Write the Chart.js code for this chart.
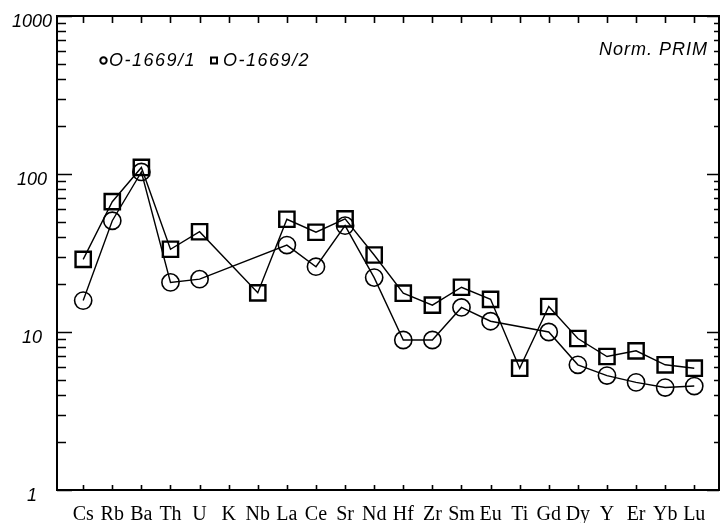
<!DOCTYPE html>
<html><head><meta charset="utf-8">
<script src="https://cdn.jsdelivr.net/npm/chart.js@4/dist/chart.umd.min.js"></script>
<style>html,body{margin:0;padding:0;background:#fff;overflow:hidden;} #wrap{width:720px;height:523px;position:relative;}</style>
</head><body><div id="wrap"><canvas id="c" width="720" height="523"></canvas></div>
<script>
const categories = ['Cs','Rb','Ba','Th','U','K','Nb','La','Ce','Sr','Nd','Hf','Zr','Sm','Eu','Ti','Gd','Dy','Y','Er','Yb','Lu'];
const seriesNames = ['O-1669/1', 'O-1669/2'];
const series1 = [15.8, 50.6, 103, 20.6, 21.6, null, null, 35.5, 25.9, 47.1, 22.1, 8.9, 8.9, 14.3, 11.7, null, 10.0, 6.2, 5.3, 4.8, 4.45, 4.55];
const series2 = [28.8, 66.8, 110, 33.4, 43.1, null, 17.7, 51.7, 42.8, 52.0, 30.7, 17.6, 14.8, 19.2, 16.1, 5.9, 14.5, 9.1, 7.0, 7.6, 6.2, 5.9];
const yTickValues = [1, 10, 100, 1000];
const normLabel = 'Norm. PRIM';

const toPts = arr => categories.map((c, i) => ({x: i, y: arr[i]}));

const areaPlugin = {
  id: 'area',
  afterLayout(chart) {
    const a = chart.chartArea, xs = chart.scales.x;
    const target = chart.width - 1;
    a.right = target; a.width = a.right - a.left;
    xs.right = target; xs.width = xs.right - xs.left;
    xs.configure();
  }
};

const framePlugin = {
  id: 'frame',
  afterDraw(chart) {
    const ctx = chart.ctx, a = chart.chartArea;
    const xs = chart.scales.x, ys = chart.scales.y;
    ctx.save();
    ctx.strokeStyle = '#000';
    ctx.lineWidth = 2;
    ctx.strokeRect(a.left, a.top, a.right - a.left, a.bottom - a.top);
    ctx.lineWidth = 1.6;
    ctx.beginPath();
    categories.forEach((c, i) => {
      const x = Math.round(xs.getPixelForValue(i)) + 0.5;
      ctx.moveTo(x, a.top); ctx.lineTo(x, a.top + 7);
      ctx.moveTo(x, a.bottom); ctx.lineTo(x, a.bottom - 5);
    });
    for (let d = 0; d < yTickValues.length - 1; d++) {
      const base = yTickValues[d];
      for (let m = 1; m <= 10; m++) {
        const v = base * m;
        const y = Math.round(ys.getPixelForValue(v)) + 0.5;
        const major = (m === 1 || m === 10);
        ctx.moveTo(a.left, y); ctx.lineTo(a.left + (major ? 15 : 9), y);
        ctx.moveTo(a.right, y); ctx.lineTo(a.right - (major ? 12 : 5), y);
      }
    }
    ctx.stroke();

    // legend
    ctx.fillStyle = '#000';
    ctx.font = 'italic 18px "Liberation Sans", Arial, sans-serif';
    ctx.textBaseline = 'alphabetic';
    ctx.letterSpacing = '1.5px';
    ctx.lineWidth = 2;
    ctx.beginPath(); ctx.arc(103.5, 60.5, 3.2, 0, Math.PI * 2); ctx.stroke();
    ctx.fillText(seriesNames[0], 109, 66);
    ctx.strokeRect(211, 57.5, 6, 6);
    ctx.fillText(seriesNames[1], 223, 66);
    ctx.letterSpacing = '1px';
    ctx.textAlign = 'right';
    ctx.fillText(normLabel, 708, 55);
    ctx.restore();
  }
};

new Chart(document.getElementById('c'), {
  type: 'line',
  data: {
    datasets: [
      {
        label: seriesNames[0], data: toPts(series1), spanGaps: true,
        borderColor: '#000', borderWidth: 1.4, backgroundColor: 'rgba(0,0,0,0)',
        pointStyle: 'circle', pointRadius: 8.6, pointBorderWidth: 1.6,
        pointBorderColor: '#000', pointBackgroundColor: 'rgba(0,0,0,0)', tension: 0
      },
      {
        label: seriesNames[1], data: toPts(series2), spanGaps: true,
        borderColor: '#000', borderWidth: 1.4, backgroundColor: 'rgba(0,0,0,0)',
        pointStyle: 'rect', pointRadius: 10.8, pointBorderWidth: 2.4,
        pointBorderColor: '#000', pointBackgroundColor: 'rgba(0,0,0,0)', tension: 0
      }
    ]
  },
  options: {
    responsive: false,
    animation: false,
    devicePixelRatio: 1,
    layout: {padding: {top: 16, right: 1, left: 0, bottom: 0}},
    plugins: {legend: {display: false}, tooltip: {enabled: false}},
    scales: {
      x: {
        type: 'linear', min: -0.9, max: 21.85,
        afterBuildTicks: s => { s.ticks = categories.map((c, i) => ({value: i})); },
        afterFit: s => { s.height = 33; s.paddingLeft = 0; s.paddingRight = 0; },
        grid: {display: false, drawTicks: false}, border: {display: false},
        ticks: {
          autoSkip: false, maxRotation: 0, padding: 13, color: '#000',
          font: {family: '"Liberation Serif", "Times New Roman", serif', size: 20},
          callback: v => categories[v]
        }
      },
      y: {
        type: 'logarithmic', min: 1, max: 1000,
        afterBuildTicks: s => { s.ticks = yTickValues.map(v => ({value: v})); },
        afterFit: s => { s.width = 57; s.paddingTop = 0; s.paddingBottom = 0; },
        grid: {display: false, drawTicks: false}, border: {display: false},
        ticks: {
          crossAlign: 'center', padding: 5, color: '#000',
          font: {family: '"Liberation Sans", Arial, sans-serif', size: 18, style: 'italic', lineHeight: 0.62},
          callback: v => ['', String(v)]
        }
      }
    }
  },
  plugins: [areaPlugin, framePlugin]
});
</script>
</body></html>
